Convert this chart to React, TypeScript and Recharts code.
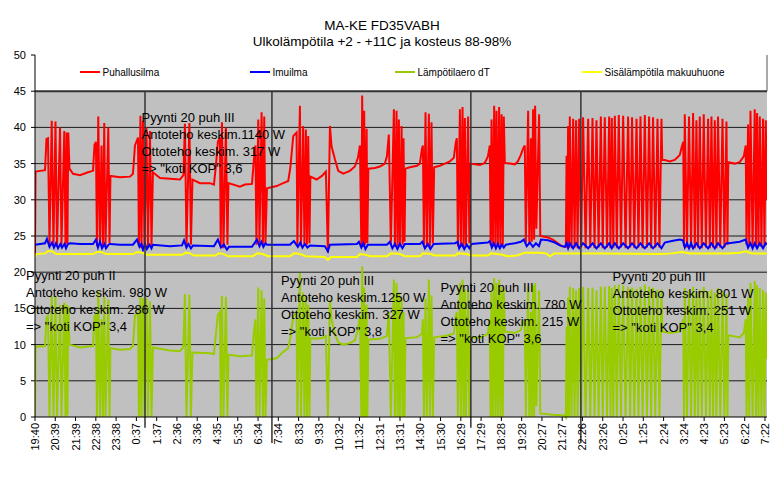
import React from 'react';
import { LineChart, Line, XAxis, YAxis, CartesianGrid, ReferenceArea, ReferenceLine } from 'recharts';

// x unit: sample slot, 20 slots between two time labels (about one hour)
const xLabels = ['19:40','20:39','21:39','22:38','23:38','0:37','1:37','2:36','3:36','4:35','5:35','6:34','7:34','8:33','9:33','10:32','11:32','12:31','13:31','14:30','15:30','16:29','17:29','18:28','19:28','20:27','21:27','22:26','23:26','0:25','1:25','2:24','3:24','4:23','5:23','6:22','7:22'];
const SLOTS_PER_LABEL = 20;
const X_MAX = 722;
const yTicks = [0, 5, 10, 15, 20, 25, 30, 35, 40, 45, 50];
const gridValues = [5, 10, 15, 20, 25, 30, 35, 40];

const puhallusilma: [number, number][] = [
[0,22.3],[0.5,33.9],[9.9,34.1],[11.3,38.4],[12.8,38.5],[14.3,23.8],[16.5,40.9],[18.2,23.6],[20.2,40.8],[21.7,23.5],[24.7,40.0],[26.1,23.8],[28.9,39.5],[30.1,23.7],[31.3,39.3],[32.0,24.0],[32.8,39.3],[34.0,34.3],[37.5,33.6],[44.4,33.4],[52.3,33.8],[57.2,34.0],[58.7,37.6],[60.1,38.0],[61.1,23.6],[62.4,41.5],[64.1,23.8],[65.6,37.5],[67.0,23.5],[68.3,40.6],[69.5,23.6],[72.3,40.0],[73.5,24.0],[74.4,33.3],[83.8,33.1],[93.7,33.2],[96.6,33.6],[98.6,37.5],[101.6,38.6],[102.5,23.5],[104.0,41.6],[105.0,23.3],[106.5,40.9],[108.0,23.3],[109.9,40.0],[111.4,23.4],[113.4,39.5],[114.9,23.5],[116.3,33.8],[123.3,33.0],[133.1,32.9],[143.0,32.8],[146.4,33.4],[147.9,40.5],[149.4,23.5],[152.3,40.6],[153.8,23.8],[155.3,32.8],[162.7,32.3],[172.6,32.3],[176.5,32.1],[178.5,34.8],[180.4,38.0],[182.4,38.6],[183.2,23.5],[184.4,40.7],[185.9,23.3],[188.3,40.0],[189.8,23.8],[190.8,32.3],[202.1,31.8],[207.1,32.1],[214.0,32.2],[215.9,35.5],[217.4,37.5],[218.4,23.8],[220.2,41.1],[221.4,24.0],[223.5,42.1],[224.8,23.8],[226.1,41.5],[227.3,24.0],[228.8,31.6],[238.3,31.9],[244.8,32.3],[249.8,32.6],[251.9,34.5],[254.7,38.8],[258.0,39.3],[258.8,23.8],[261.3,43.0],[262.3,23.6],[264.5,40.2],[265.7,23.8],[267.2,39.7],[268.2,23.8],[269.5,38.8],[270.7,24.0],[271.6,33.2],[277.8,32.8],[283.0,33.3],[286.9,33.9],[288.9,22.7],[290.9,40.2],[292.5,37.4],[295.8,35.6],[299.1,34.0],[304.0,33.6],[310.6,34.0],[315.5,34.6],[318.5,35.8],[320.5,37.5],[321.9,23.6],[322.7,44.4],[323.9,23.5],[324.7,42.3],[325.7,23.8],[327.1,39.8],[327.8,24.0],[328.8,34.3],[335.2,34.4],[340.2,34.6],[345.1,35.0],[347.1,36.0],[349.0,39.0],[351.0,23.8],[354.0,42.5],[355.0,23.5],[356.6,42.3],[357.6,23.6],[358.9,41.1],[359.9,23.6],[361.6,40.2],[362.6,23.8],[363.5,38.5],[364.5,24.2],[365.3,34.3],[369.8,34.5],[376.7,34.7],[379.6,35.0],[381.6,37.0],[382.6,37.5],[383.6,23.8],[385.2,42.1],[386.5,23.5],[388.5,41.9],[389.5,23.6],[391.1,40.7],[392.4,24.0],[393.7,34.5],[399.3,34.7],[404.3,35.0],[409.2,35.3],[413.1,35.8],[415.1,38.0],[416.1,38.5],[417.1,23.6],[419.1,42.5],[420.0,23.5],[421.7,42.8],[422.7,23.5],[424.0,41.3],[425.0,23.8],[427.2,41.5],[428.4,24.0],[429.4,35.0],[433.8,34.9],[438.8,34.8],[443.7,35.1],[446.7,36.0],[448.6,37.5],[449.4,23.8],[450.3,41.1],[451.6,23.6],[452.9,43.0],[454.1,23.6],[455.2,42.3],[456.5,23.5],[457.8,42.8],[459.0,23.6],[460.2,41.8],[461.4,23.8],[462.4,41.5],[463.4,35.1],[468.4,35.0],[473.3,34.9],[476.2,35.3],[479.2,36.2],[481.2,37.0],[483.1,37.5],[484.1,24.0],[486.4,42.3],[487.6,24.0],[489.1,38.5],[490.0,24.2],[491.3,42.5],[492.3,24.5],[493.3,43.0],[494.5,26.0],[497.2,41.8],[498.4,25.0],[505.8,24.8],[510.7,24.5],[515.7,24.0],[519.6,23.6],[522.6,23.5],
[523.6,23.5],[524.3,36.1],[525.0,23.5],[525.8,40.2],[526.7,23.4],[527.5,41.5],[529.2,23.3],[530.8,41.2],[532.2,23.4],[533.7,41.0],[535.2,23.3],[536.7,41.2],[538.7,23.4],[540.6,41.4],[543.1,23.3],[545.6,41.2],[547.7,23.4],[549.9,41.3],[551.9,23.3],[553.8,41.0],[555.9,23.4],[558.1,41.5],[560.0,23.3],[562.0,41.4],[564.2,23.4],[566.3,41.5],[567.6,23.3],[568.9,41.3],[570.4,23.4],[571.9,41.6],[573.9,23.3],[575.8,41.7],[578.0,23.4],[580.1,41.6],[582.5,23.3],[585.0,41.5],[587.0,23.4],[588.9,41.4],[591.1,23.3],[593.3,41.2],[595.2,23.4],[597.2,41.5],[599.3,23.3],[601.5,41.7],[603.6,23.4],[605.7,41.5],[607.7,23.3],[609.6,41.4],[611.8,23.4],[614.0,41.2],[615.9,23.4],[617.9,41.2],[618.7,35.5],
[621.2,35.5],[626.1,35.3],[631.0,35.5],[636.0,36.2],[637.9,37.3],[639.4,38.0],
[640.1,23.6],[640.9,41.8],[643.1,23.4],[645.1,41.5],[647.1,23.4],[649.1,42.0],[650.8,23.3],[652.4,41.0],[654.0,23.4],[655.7,41.5],[657.7,23.3],[659.6,41.8],[661.8,23.4],[663.9,41.2],[665.6,23.3],[667.2,41.5],[668.8,23.4],[670.5,41.0],[672.1,23.3],[673.7,41.5],[675.9,23.4],[678.1,41.2],[680.0,23.4],[682.0,40.8],[683.0,23.8],[683.8,35.2],[690.2,35.0],[695.1,35.2],[699.1,36.0],[701.0,37.5],
[701.8,23.8],[703.3,40.4],[704.5,23.6],[705.7,42.3],[707.8,23.5],[709.9,42.5],[711.1,23.5],[712.2,42.0],[713.6,23.6],[714.9,41.5],[716.5,23.5],[718.1,41.2],[719.5,23.6],[720.8,41.0],[721.8,30.0]
];

const imuilma: [number, number][] = [
[0,23.8],[9.9,24.0],[11.8,24.6],[14.3,23.5],[16.8,24.1],[18.7,23.4],[20.7,24.0],[22.7,23.3],[25.1,23.9],[26.6,23.4],[29.1,23.9],[30.6,23.3],[32.5,23.9],[34.5,24.0],[44.4,23.9],[57.2,23.9],[60.1,24.5],[62.1,23.4],[64.1,24.2],[66.1,23.3],[68.5,23.9],[70.0,23.3],[72.5,23.8],[74.0,23.9],[83.8,23.8],[96.6,23.8],[100.6,24.5],[103.1,23.5],[105.0,23.9],[106.5,23.1],[108.5,23.9],[110.4,23.2],[112.9,23.8],[114.9,23.3],[116.3,23.8],[133.1,23.6],[145.0,23.7],[147.0,24.4],[149.4,23.4],[151.3,23.9],[153.8,23.3],[155.8,23.7],[176.5,23.6],[180.4,24.5],[183.4,23.4],[186.4,23.8],[189.3,23.1],[191.3,23.5],[214.0,23.5],[218.9,24.5],[221.4,23.6],[223.3,24.2],[225.3,23.5],[227.3,24.0],[228.8,23.8],[251.4,23.8],[255.4,24.3],[259.3,23.5],[261.8,24.1],[263.8,23.4],[266.2,23.9],[268.7,23.4],[271.2,23.7],[285.9,23.6],[288.9,22.9],[290.9,23.8],[317.5,23.9],[319.5,24.2],[321.9,23.4],[323.9,24.0],[325.9,23.2],[328.3,23.8],[347.1,23.8],[350.0,24.2],[352.5,23.3],[355.0,23.9],[357.5,23.2],[359.9,23.9],[362.4,23.3],[364.8,23.9],[379.6,23.9],[382.1,24.2],[384.6,23.3],[387.5,23.9],[390.0,23.2],[393.2,23.9],[414.4,24.0],[416.9,24.2],[418.4,23.3],[420.9,23.9],[423.4,23.2],[425.9,23.8],[428.4,23.3],[430.4,23.9],[446.7,24.1],[448.6,24.3],[450.6,23.4],[452.6,24.0],[454.6,23.3],[456.5,23.9],[458.5,23.3],[460.5,23.8],[462.4,23.4],[464.4,23.8],[473.3,24.0],[479.2,24.2],[482.1,24.5],[485.0,23.6],[488.1,24.1],[491.1,23.5],[494.1,24.0],[497.1,23.6],[499.1,24.5],[506.0,24.4],[512.7,24.1],[517.6,23.7],[522.6,23.5],
[524.3,24.0],[525.8,23.3],[527.5,24.0],[530.8,23.3],[533.7,24.0],[536.7,23.3],[540.6,24.0],[545.6,23.3],[549.9,24.0],[553.8,23.3],[558.1,24.0],[562.0,23.3],[566.3,24.0],[568.9,23.3],[571.9,24.0],[575.8,23.3],[580.1,24.0],[585.0,23.3],[588.9,24.0],[593.3,23.3],[597.2,24.0],[601.5,23.3],[605.7,24.0],[609.6,23.3],[614.0,24.0],[617.9,23.3],[621.2,24.1],[628.1,24.3],[636.0,24.5],[639.0,24.4],
[640.9,23.4],[643.1,24.0],[645.1,23.3],[647.1,24.0],[649.1,23.3],[652.4,24.0],[655.7,23.3],[659.6,24.0],[663.9,23.3],[667.2,24.0],[670.5,23.3],[673.7,24.0],[678.1,23.3],[682.0,24.0],[684.3,24.0],[695.1,24.2],[701.0,24.5],
[703.3,23.4],[705.7,24.0],[707.8,23.3],[709.9,24.0],[712.2,23.3],[714.9,24.0],[718.1,23.3],[720.8,24.0],[721.8,23.8]
];

const lampotilaero: [number, number][] = [
[0,0],[0.5,9.7],[9.9,9.8],[11.3,13.7],[12.8,14.0],[14.3,0],[16.5,16.7],[18.2,0],[20.2,16.7],[21.7,0],[24.7,15.5],[26.1,0],[28.9,15.8],[30.1,0],[31.3,15.5],[32.0,0.2],[32.8,15.3],[34.0,10.0],[44.4,9.6],[57.2,9.8],[58.7,13.9],[60.1,14.2],[61.1,0],[62.4,17.4],[64.1,0],[65.6,13.5],[67.0,0],[68.3,16.6],[69.5,0],[72.3,16.2],[73.5,0],[74.4,9.5],[83.8,9.3],[93.7,9.4],[96.6,9.8],[98.6,14.0],[101.6,14.4],[102.5,0],[104.0,16.7],[105.0,0],[106.5,16.4],[108.0,0],[109.9,16.4],[111.4,0],[113.4,16.0],[114.9,0],[116.3,9.6],[133.1,9.2],[143.0,9.1],[146.4,9.7],[147.9,17.0],[149.4,0],[152.3,16.9],[153.8,0],[155.3,8.9],[172.6,8.8],[176.5,8.7],[178.5,11.5],[180.4,14.1],[182.4,14.5],[183.2,0],[184.4,16.7],[185.9,0],[188.3,16.6],[189.8,0],[190.8,8.6],[202.1,8.4],[214.0,8.5],[215.9,11.8],[217.4,13.5],[218.4,0],[220.2,17.9],[221.4,0],[223.5,17.5],[224.8,0],[226.1,16.4],[227.3,0],[228.8,7.9],[238.3,8.1],[244.8,9.0],[249.8,9.5],[251.9,11.0],[254.7,13.9],[258.0,14.5],[258.8,0],[261.3,19.9],[262.3,0],[264.5,17.2],[265.7,0],[267.2,16.7],[268.2,0],[269.5,15.5],[270.7,0],[271.6,10.9],[277.8,10.8],[283.0,10.9],[286.9,11.2],[288.9,0],[290.9,16.2],[292.5,13.5],[295.8,11.5],[299.1,10.3],[304.0,10.0],[310.6,10.2],[315.5,10.6],[318.5,12.0],[320.5,14.0],[321.9,0],[322.7,20.8],[323.9,0],[324.7,17.9],[325.7,0],[327.1,15.5],[327.8,0],[328.8,10.7],[340.2,10.8],[347.1,11.2],[349.0,14.5],[351.0,0],[354.0,19.0],[355.0,0],[356.6,18.5],[357.6,0],[358.9,17.2],[359.9,0],[361.6,16.5],[362.6,0],[363.5,14.5],[364.5,0],[365.3,10.9],[376.7,11.0],[381.6,11.5],[382.6,13.5],[383.6,0],[385.2,16.4],[386.5,0],[388.5,19.0],[389.5,0],[391.1,16.8],[392.4,0],[393.7,11.0],[404.3,11.2],[413.1,11.5],[415.1,14.0],[416.1,14.5],[417.1,0],[419.1,18.5],[420.0,0],[421.7,19.0],[422.7,0],[424.0,17.6],[425.0,0],[427.2,17.5],[428.4,0],[429.4,11.0],[438.8,10.9],[446.7,11.5],[448.6,13.5],[449.4,0],[450.3,17.3],[451.6,0],[452.9,19.2],[454.1,0],[455.2,18.5],[456.5,0],[457.8,19.0],[459.0,0],[460.2,18.0],[461.4,0],[462.4,17.6],[463.4,11.8],[473.3,11.6],[479.2,12.0],[481.2,13.0],[483.1,13.5],[484.1,0],[486.4,18.0],[487.6,0],[489.1,14.5],[490.0,0],[491.3,18.2],[492.3,0],[493.3,18.5],[494.5,1.5],[497.2,17.5],[498.4,0.5],[510.7,0.3],[522.6,0.2],
[523.6,0],[524.3,12.5],[525.0,0],[525.8,16.5],[526.7,0],[527.5,18.0],[529.2,0],[530.8,17.8],[532.2,0],[533.7,17.5],[535.2,0],[536.7,17.8],[538.7,0],[540.6,18.0],[543.1,0],[545.6,17.8],[547.7,0],[549.9,17.9],[551.9,0],[553.8,17.5],[555.9,0],[558.1,18.0],[560.0,0],[562.0,18.0],[564.2,0],[566.3,18.1],[567.6,0],[568.9,17.8],[570.4,0],[571.9,18.2],[573.9,0],[575.8,18.3],[578.0,0],[580.1,18.2],[582.5,0],[585.0,18.0],[587.0,0],[588.9,17.9],[591.1,0],[593.3,17.7],[595.2,0],[597.2,18.0],[599.3,0],[601.5,18.3],[603.6,0],[605.7,18.0],[607.7,0],[609.6,17.9],[611.8,0],[614.0,17.6],[615.9,0],[617.9,17.6],[618.7,11.8],[626.1,11.6],[636.0,11.8],[639.4,13.5],
[640.1,0],[640.9,17.8],[643.1,0],[645.1,17.5],[647.1,0],[649.1,18.0],[650.8,0],[652.4,17.2],[654.0,0],[655.7,17.6],[657.7,0],[659.6,18.0],[661.8,0],[663.9,17.4],[665.6,0],[667.2,17.6],[668.8,0],[670.5,17.2],[672.1,0],[673.7,17.8],[675.9,0],[678.1,17.4],[680.0,0],[682.0,17.0],[683.0,0],[683.8,11.3],[695.1,11.0],[699.1,11.6],[701.0,13.5],
[701.8,0],[703.3,16.5],[704.5,0],[705.7,18.5],[707.8,0],[709.9,18.8],[711.1,0],[712.2,18.2],[713.6,0],[714.9,17.8],[716.5,0],[718.1,17.5],[719.5,0],[720.8,17.2],[721.8,8.0]
];

const sisalampotila: [number, number][] = [
[0,22.1],[1.0,22.5],[9.9,22.6],[12.8,22.9],[16.8,22.9],[20.7,22.5],[57.2,22.5],[61.1,22.8],[65.1,22.8],[70.0,22.5],[96.6,22.5],[100.6,22.8],[105.6,22.7],[110.4,22.4],[145.0,22.4],[148.9,22.7],[152.8,22.6],[156.8,22.3],[177.5,22.3],[181.4,22.6],[186.4,22.5],[190.3,22.2],[214.9,22.2],[218.9,22.6],[224.8,22.5],[229.7,22.2],[251.4,22.2],[255.4,22.6],[261.3,22.5],[267.2,22.2],[285.9,22.1],[288.9,21.7],[291.9,22.1],[317.5,22.1],[320.5,22.5],[326.3,22.4],[330.3,22.2],[347.1,22.2],[351.0,22.6],[359.9,22.5],[364.8,22.2],[379.6,22.2],[382.6,22.6],[390.5,22.5],[394.4,22.3],[414.4,22.3],[417.1,22.6],[426.0,22.5],[429.9,22.3],[446.7,22.3],[450.0,22.6],[461.4,22.4],[465.4,22.2],[475.3,22.3],[483.1,22.7],[498.4,22.7],[504.0,22.6],[508.0,22.2],[512.0,22.6],[522.6,22.6],[557.1,22.6],[618.2,22.5],[628.1,22.6],[637.9,22.8],[645.8,22.6],[683.3,22.6],[695.1,22.7],[701.0,22.9],[707.0,22.6],[721.8,22.6]
];

const series = [
  { key: 'puhallusilma', name: 'Puhallusilma', color: '#FF0000', points: puhallusilma },
  { key: 'imuilma', name: 'Imuilma', color: '#0000FF', points: imuilma },
  { key: 'lampotilaero', name: 'Lämpötilaero dT', color: '#99CC00', points: lampotilaero },
  { key: 'sisalampotila', name: 'Sisälämpötila makuuhuone', color: '#FFFF00', points: sisalampotila },
];

// period separators (x in slots, lower end in °C below axis)
const separators = [
  { x: 108.5, bottom: -1.5 },
  { x: 233.7, bottom: -3.6 },
  { x: 429.9, bottom: -1.5 },
  { x: 538.4, bottom: -3.6 },
];

const annotations = [
  { left: 141.5, top: 122, lines: ['Pyynti 20 puh III', 'Antoteho keskim.1140 W', 'Ottoteho keskim. 317 W', '=> "koti KOP" 3,6'] },
  { left: 26, top: 280, lines: ['Pyynti 20 puh II', 'Antoteho keskim. 980 W', 'Ottoteho keskim. 286 W', '=> "koti KOP" 3,4'] },
  { left: 281, top: 285, lines: ['Pyynti 20 puh III', 'Antoteho keskim.1250 W', 'Ottoteho keskim. 327 W', '=> "koti KOP" 3,8'] },
  { left: 440.5, top: 292, lines: ['Pyynti 20 puh III', 'Antoteho keskim. 780 W', 'Ottoteho keskim. 215 W', '=> "koti KOP" 3,6'] },
  { left: 612.5, top: 281, lines: ['Pyynti 20 puh III', 'Antoteho keskim. 801 W', 'Ottoteho keskim. 251 W', '=> "koti KOP" 3,4'] },
];

const legendLeft = [80, 250, 395, 582];

const FONT = 'Arial, "Liberation Sans", sans-serif';

const xTicks = xLabels.map((_, i) => i * SLOTS_PER_LABEL);

const XTick = (props: any) => {
  const { x, y, payload } = props;
  const label = xLabels[Math.round(payload.value / SLOTS_PER_LABEL)];
  return (
    <text x={x} y={y} dy={4} transform={`rotate(-90 ${x} ${y})`} textAnchor="end" fontSize={11} fill="#000" fontFamily={FONT}>
      {label}
    </text>
  );
};

export default function App() {
  return (
    <div style={{ position: 'absolute', left: 0, top: 0, width: 778, height: 478, background: '#fff', fontFamily: FONT }}>
      <LineChart width={778} height={478} margin={{ top: 55, right: 11, bottom: 0, left: 0 }}>
        <CartesianGrid vertical={false} horizontalValues={gridValues} stroke="#1a1a1a" fill="#C0C0C0" fillOpacity={1} />
        <ReferenceArea y1={45} y2={50} fill="#FFFFFF" fillOpacity={1} stroke="none" ifOverflow="visible" />
        <ReferenceLine y={45} stroke="#333" strokeWidth={2} />
        <ReferenceLine segment={[{ x: X_MAX, y: 45 }, { x: X_MAX, y: 50 }]} stroke="#555" strokeWidth={1} ifOverflow="visible" />
        <XAxis
          type="number"
          dataKey="x"
          domain={[0, X_MAX]}
          ticks={xTicks}
          interval={0}
          allowDataOverflow
          height={61}
          tickSize={4}
          tickMargin={2}
          stroke="#000"
          tick={<XTick />}
        />
        <YAxis
          type="number"
          domain={[0, 50]}
          ticks={yTicks}
          interval={0}
          width={35}
          tickSize={4}
          tickMargin={5}
          stroke="#000"
          tick={{ fontSize: 11, fill: '#000', fontFamily: FONT }}
        />
        {series.map((s) => (
          <Line
            key={s.key}
            data={s.points.map(([x, v]) => ({ x, v }))}
            dataKey="v"
            name={s.name}
            type="linear"
            stroke={s.color}
            strokeWidth={2}
            dot={false}
            activeDot={false}
            isAnimationActive={false}
          />
        ))}
        {separators.map((s, i) => (
          <ReferenceLine
            key={i}
            segment={[{ x: s.x, y: 45 }, { x: s.x, y: s.bottom }]}
            stroke="#333"
            strokeWidth={1.5}
            ifOverflow="visible"
          />
        ))}
      </LineChart>
      <svg width={778} height={478} style={{ position: 'absolute', left: 0, top: 0, pointerEvents: 'none' }} fontFamily={FONT}>
        <text x={382} y={29.5} textAnchor="middle" fontSize={13.5} fill="#000">MA-KE FD35VABH</text>
        <text x={382} y={46} textAnchor="middle" fontSize={13.5} fill="#000">Ulkolämpötila +2 - +11C ja kosteus 88-98%</text>
        {series.map((s, i) => (
          <g key={s.key}>
            <line x1={legendLeft[i]} x2={legendLeft[i] + 20} y1={72} y2={72} stroke={s.color} strokeWidth={2} />
            <text x={legendLeft[i] + 22.5} y={75.5} fontSize={10} fill="#000">{s.name}</text>
          </g>
        ))}
        {annotations.map((a, i) => (
          <text key={i} x={a.left} y={a.top} fontSize={13} fill="#000">
            {a.lines.map((l, j) => (
              <tspan key={j} x={a.left} y={a.top + j * 17}>{l}</tspan>
            ))}
          </text>
        ))}
      </svg>
    </div>
  );
}
